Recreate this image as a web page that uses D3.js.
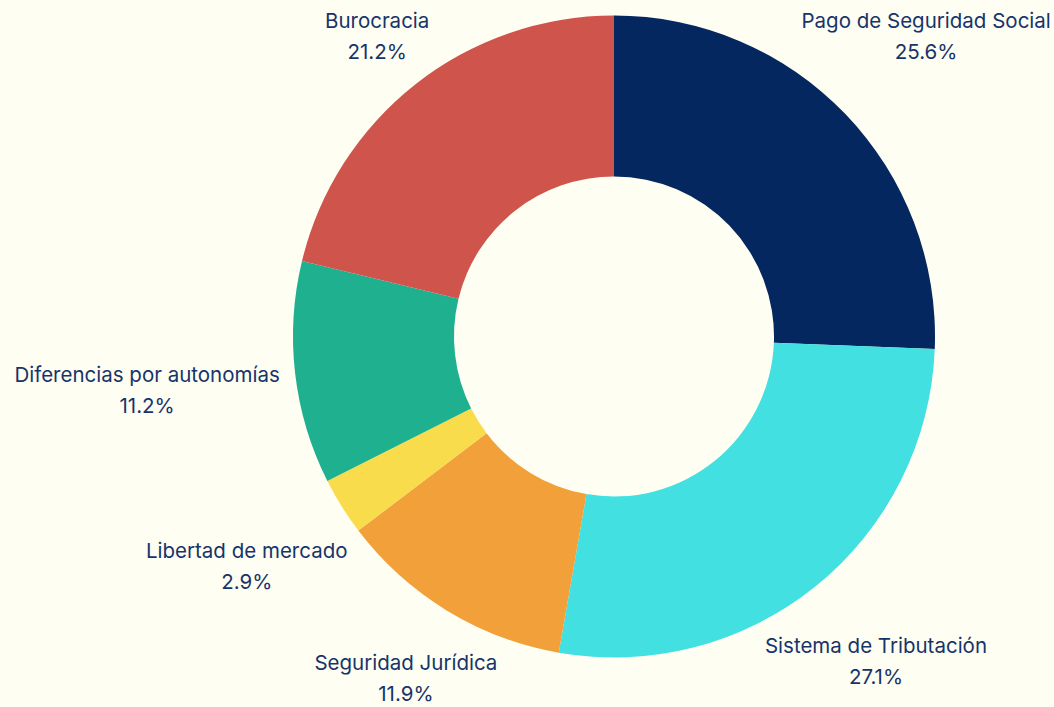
<!DOCTYPE html>
<html><head><meta charset="utf-8">
<script src="https://cdn.jsdelivr.net/npm/d3@7"></script>
<style>
html,body{margin:0;padding:0;background:#FEFEF2;}
svg{display:block;}
text{font-family:Inter,"Noto Sans",sans-serif;fill:#17346A;}
</style></head>
<body>
<svg id="chart" width="1054" height="707"></svg>
<script>
const categories = ["Pago de Seguridad Social","Sistema de Tributación","Seguridad Jurídica","Libertad de mercado","Diferencias por autonomías","Burocracia"];
const values = [25.6, 27.1, 11.9, 2.9, 11.2, 21.2];
const valueLabels = ["25.6%","27.1%","11.9%","2.9%","11.2%","21.2%"];
const colors = ["#03275E","#42E0E0","#F1A03A","#F9DC4B","#1FB08F","#CF544B"];
// layout: distance of each label centre from chart centre
const labelDist = [433, 417, 400, 433, 470, 383];

const W = 1054, H = 707, cx = 614, cy = 336.5, R = 321, r = 160;
const svg = d3.select("#chart");
svg.append("rect").attr("width", W).attr("height", H).attr("fill", "#FEFEF2");
const g = svg.append("g").attr("transform", `translate(${cx},${cy})`);
const data = categories.map((c, i) => ({cat: c, v: values[i], lbl: valueLabels[i], col: colors[i], d: labelDist[i]}));
const pie = d3.pie().value(d => d.v).sort(null).startAngle(0).endAngle(2 * Math.PI);
const arc = d3.arc().innerRadius(r).outerRadius(R);
const arcs = pie(data);
g.selectAll("path").data(arcs).join("path").attr("d", arc).attr("fill", d => d.data.col);
const lab = g.selectAll("g.lab").data(arcs).join("g").attr("class", "lab")
  .attr("transform", d => {
    const a = (d.startAngle + d.endAngle) / 2;
    return `translate(${Math.sin(a) * d.data.d},${-Math.cos(a) * d.data.d})`;
  });
lab.append("text").attr("text-anchor", "middle").attr("y", -8).attr("font-size", 20.5).text(d => d.data.cat);
lab.append("text").attr("text-anchor", "middle").attr("y", 23).attr("font-size", 20.5).text(d => d.data.lbl);
</script>
</body></html>
